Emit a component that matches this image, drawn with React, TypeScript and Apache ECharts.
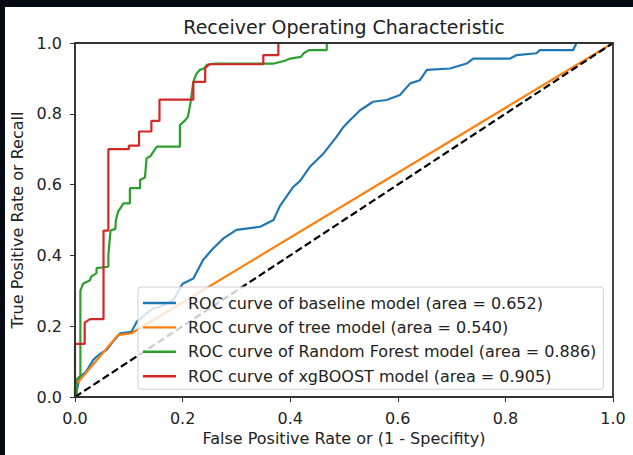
import React, { useEffect, useRef } from 'react';
import * as echarts from 'echarts';

const titleText = 'Receiver Operating Characteristic';
const xAxisName = 'False Positive Rate or (1 - Specifity)';
const yAxisName = 'True Positive Rate or Recall';
const tickLabels = ['0.0', '0.2', '0.4', '0.6', '0.8', '1.0'];

const seriesNames = [
  'ROC curve of baseline model (area = 0.652)',
  'ROC curve of tree model (area = 0.540)',
  'ROC curve of Random Forest model (area = 0.886)',
  'ROC curve of xgBOOST model (area = 0.905)',
];
const seriesColors = ['#1f77b4', '#ff7f0e', '#2ca02c', '#d62728'];

const baselineFpr = [0, 0.005, 0.009, 0.02, 0.034, 0.045, 0.059, 0.07, 0.084, 0.105, 0.115, 0.133, 0.145, 0.158, 0.183, 0.2, 0.22, 0.238, 0.257, 0.276, 0.3, 0.344, 0.369, 0.381, 0.406, 0.418, 0.437, 0.462, 0.486, 0.499, 0.511, 0.53, 0.554, 0.579, 0.604, 0.623, 0.641, 0.654, 0.697, 0.728, 0.74, 0.809, 0.821, 0.858, 0.864, 0.926, 0.932, 1];
const baselineTpr = [0, 0.03, 0.057, 0.07, 0.105, 0.12, 0.133, 0.155, 0.18, 0.184, 0.213, 0.236, 0.25, 0.255, 0.274, 0.32, 0.335, 0.387, 0.42, 0.448, 0.472, 0.481, 0.5, 0.54, 0.594, 0.61, 0.651, 0.688, 0.735, 0.763, 0.782, 0.81, 0.834, 0.839, 0.853, 0.886, 0.895, 0.924, 0.928, 0.942, 0.956, 0.956, 0.966, 0.971, 0.98, 0.98, 1, 1];

const treeFpr = [0, 0.002, 0.08, 0.105, 1];
const treeTpr = [0, 0.035, 0.175, 0.18, 1];

const forestFpr = [0, 0.003, 0.003, 0.01, 0.01, 0.015, 0.028, 0.03, 0.04, 0.04, 0.062, 0.062, 0.066, 0.075, 0.076, 0.08, 0.09, 0.102, 0.102, 0.121, 0.121, 0.13, 0.133, 0.14, 0.152, 0.195, 0.195, 0.205, 0.21, 0.215, 0.22, 0.226, 0.232, 0.24, 0.245, 0.26, 0.37, 0.39, 0.4, 0.42, 0.425, 0.435, 0.468, 0.468, 1];
const forestTpr = [0, 0, 0.05, 0.06, 0.3, 0.32, 0.33, 0.34, 0.35, 0.364, 0.368, 0.4, 0.47, 0.475, 0.5, 0.523, 0.547, 0.547, 0.59, 0.59, 0.613, 0.62, 0.674, 0.68, 0.707, 0.707, 0.768, 0.782, 0.792, 0.834, 0.891, 0.914, 0.924, 0.928, 0.938, 0.942, 0.942, 0.95, 0.956, 0.961, 0.971, 0.98, 0.98, 1, 1];

const xgbFpr = [0, 0, 0.018, 0.018, 0.028, 0.053, 0.053, 0.062, 0.062, 0.1, 0.1, 0.119, 0.119, 0.142, 0.142, 0.157, 0.157, 0.22, 0.22, 0.242, 0.242, 0.25, 0.35, 0.35, 0.378, 0.378, 1];
const xgbTpr = [0, 0.15, 0.15, 0.21, 0.22, 0.22, 0.47, 0.47, 0.7, 0.7, 0.71, 0.71, 0.75, 0.75, 0.78, 0.78, 0.84, 0.84, 0.89, 0.89, 0.93, 0.94, 0.94, 0.966, 0.966, 1, 1];

const chanceFpr = [0, 1];
const chanceTpr = [0, 1];

const FONT = 'DejaVu Sans';

function zip(a: number[], b: number[]) {
  return a.map((v, i) => [v, b[i]]);
}

export default function App() {
  const ref = useRef<HTMLDivElement>(null);
  useEffect(() => {
    if (!ref.current) return;
    const chart = echarts.init(ref.current, undefined, { renderer: 'svg' });
    const curves = [
      zip(baselineFpr, baselineTpr),
      zip(treeFpr, treeTpr),
      zip(forestFpr, forestTpr),
      zip(xgbFpr, xgbTpr),
    ];
    const fmt = (v: number) => tickLabels[Math.round(v * 5)] ?? v.toFixed(1);
    const axisCommon = {
      type: 'value' as const,
      min: 0,
      max: 1,
      interval: 0.2,
      nameLocation: 'middle' as const,
      nameTextStyle: { fontFamily: FONT, fontSize: 16, color: '#222' },
      axisLine: { show: true, lineStyle: { color: '#333', width: 1.6 } },
      axisTick: { show: true, length: 5, lineStyle: { color: '#333', width: 1 } },
      splitLine: { show: false },
      z: 10,
    };
    chart.setOption({
      animation: false,
      backgroundColor: 'transparent',
      graphic: [
        {
          type: 'rect',
          z: -10,
          silent: true,
          shape: { x: 5, y: 7, width: 628, height: 448 },
          style: { fill: '#ffffff' },
        },
      ],
      title: {
        text: titleText,
        left: 344,
        top: 17,
        padding: 0,
        textAlign: 'center',
        textStyle: { fontFamily: FONT, fontSize: 19, fontWeight: 'normal', color: '#222' },
      },
      grid: {
        left: 75,
        right: 20,
        top: 43,
        bottom: 58,
        show: true,
        z: 10,
        borderColor: '#333',
        borderWidth: 1.8,
        backgroundColor: 'transparent',
      },
      legend: {
        orient: 'vertical',
        left: 138,
        top: 287,
        data: seriesNames,
        icon: 'rect',
        itemWidth: 33,
        itemHeight: 2.4,
        itemGap: 8.4,
        padding: [8, 7, 5, 5],
        backgroundColor: 'rgba(255,255,255,0.8)',
        borderColor: '#d0d0d0',
        borderWidth: 1,
        borderRadius: 3,
        z: 12,
        textStyle: { fontFamily: FONT, fontSize: 16, color: '#222', lineHeight: 16, padding: [0, 0, 0, 7] },
      },
      xAxis: {
        ...axisCommon,
        name: xAxisName,
        nameGap: 33,
        axisLabel: { fontFamily: FONT, fontSize: 16, color: '#222', margin: 13, formatter: fmt },
      },
      yAxis: {
        ...axisCommon,
        name: yAxisName,
        nameGap: 45,
        axisLabel: { fontFamily: FONT, fontSize: 16, color: '#222', margin: 13, formatter: fmt },
      },
      series: [
        ...curves.map((data, i) => ({
          type: 'line',
          name: seriesNames[i],
          data,
          symbol: 'none',
          lineStyle: { color: seriesColors[i], width: 2.2 },
          itemStyle: { color: seriesColors[i] },
          z: 2 + i * 0.01,
        })),
        {
          type: 'line',
          name: 'chance',
          data: zip(chanceFpr, chanceTpr),
          symbol: 'none',
          lineStyle: { color: '#000', width: 2.2, type: [7.5, 3.5] },
          z: 2.1,
        },
      ],
    });
    return () => chart.dispose();
  }, []);
  return (
    <div
      ref={ref}
      style={{ position: 'fixed', left: 0, top: 0, width: 633, height: 455, background: '#060a12' }}
    />
  );
}
